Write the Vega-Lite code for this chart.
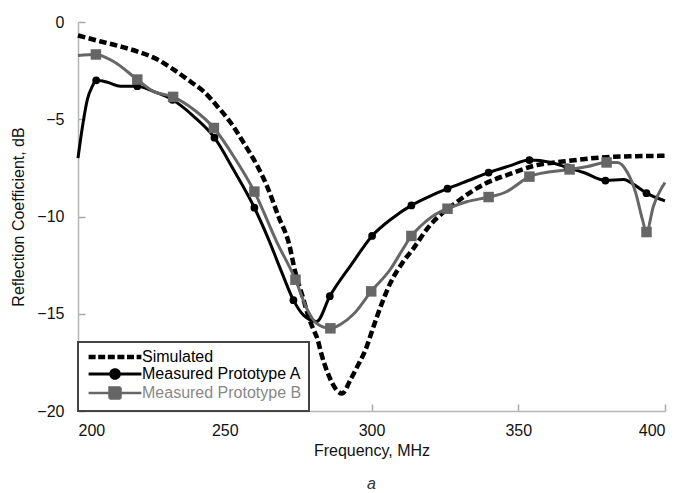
{
  "$schema": "https://vega.github.io/schema/vega-lite/v6.json",
  "width": 587,
  "height": 389,
  "autosize": {"type": "none"},
  "padding": {"left": 78, "top": 22, "right": 14, "bottom": 82},
  "background": "white",
  "config": {
    "view": {"stroke": null},
    "font": "Liberation Sans",
    "axis": {
      "grid": false,
      "domainColor": "#b5b5b5",
      "domainWidth": 1.5,
      "tickColor": "#a8a8a8",
      "tickWidth": 1.5,
      "tickSize": -7,
      "labelFont": "Liberation Sans",
      "titleFont": "Liberation Sans",
      "labelFontSize": 16,
      "titleFontSize": 16,
      "titleFontWeight": "normal",
      "labelColor": "#111",
      "titleColor": "#111"
    }
  },
  "title": {
    "text": "a",
    "orient": "bottom",
    "anchor": "middle",
    "font": "Liberation Sans",
    "fontSize": 16,
    "fontStyle": "italic",
    "fontWeight": "normal",
    "color": "#333",
    "offset": 18
  },
  "datasets": {
    "lines": [
      {"series": "Simulated", "freq": 200, "db": -0.69},
      {"series": "Simulated", "freq": 207.7, "db": -1.0},
      {"series": "Simulated", "freq": 214.5, "db": -1.26},
      {"series": "Simulated", "freq": 220.3, "db": -1.52},
      {"series": "Simulated", "freq": 227.1, "db": -1.93},
      {"series": "Simulated", "freq": 232.5, "db": -2.44},
      {"series": "Simulated", "freq": 238.3, "db": -3.06},
      {"series": "Simulated", "freq": 242.8, "db": -3.57},
      {"series": "Simulated", "freq": 247.5, "db": -4.34},
      {"series": "Simulated", "freq": 252, "db": -5.17},
      {"series": "Simulated", "freq": 256.4, "db": -6.2},
      {"series": "Simulated", "freq": 261.2, "db": -7.43},
      {"series": "Simulated", "freq": 264.6, "db": -8.51},
      {"series": "Simulated", "freq": 268.3, "db": -10.0},
      {"series": "Simulated", "freq": 271.8, "db": -11.35},
      {"series": "Simulated", "freq": 274.1, "db": -12.9},
      {"series": "Simulated", "freq": 276.5, "db": -14.1},
      {"series": "Simulated", "freq": 278.5, "db": -15.14},
      {"series": "Simulated", "freq": 280.2, "db": -15.8},
      {"series": "Simulated", "freq": 281.6, "db": -16.3},
      {"series": "Simulated", "freq": 282.8, "db": -17.0},
      {"series": "Simulated", "freq": 285.5, "db": -18.2},
      {"series": "Simulated", "freq": 288, "db": -18.9},
      {"series": "Simulated", "freq": 290, "db": -19.1},
      {"series": "Simulated", "freq": 292.8, "db": -18.4},
      {"series": "Simulated", "freq": 295.2, "db": -17.7},
      {"series": "Simulated", "freq": 298, "db": -16.84},
      {"series": "Simulated", "freq": 300.7, "db": -15.65},
      {"series": "Simulated", "freq": 303.7, "db": -14.4},
      {"series": "Simulated", "freq": 306.5, "db": -13.4},
      {"series": "Simulated", "freq": 310.6, "db": -12.37},
      {"series": "Simulated", "freq": 314, "db": -11.7},
      {"series": "Simulated", "freq": 319.4, "db": -10.55},
      {"series": "Simulated", "freq": 329.3, "db": -9.23},
      {"series": "Simulated", "freq": 338.2, "db": -8.35},
      {"series": "Simulated", "freq": 348.4, "db": -7.75},
      {"series": "Simulated", "freq": 355.2, "db": -7.4},
      {"series": "Simulated", "freq": 366.7, "db": -7.15},
      {"series": "Simulated", "freq": 378, "db": -6.97},
      {"series": "Simulated", "freq": 390, "db": -6.9},
      {"series": "Simulated", "freq": 400, "db": -6.88},

      {"series": "Measured Prototype A", "freq": 200, "db": -7.0},
      {"series": "Measured Prototype A", "freq": 201.5, "db": -5.4},
      {"series": "Measured Prototype A", "freq": 203.2, "db": -3.98},
      {"series": "Measured Prototype A", "freq": 204.9, "db": -3.3},
      {"series": "Measured Prototype A", "freq": 206.2, "db": -3.0},
      {"series": "Measured Prototype A", "freq": 210, "db": -3.1},
      {"series": "Measured Prototype A", "freq": 214.5, "db": -3.3},
      {"series": "Measured Prototype A", "freq": 220.2, "db": -3.3},
      {"series": "Measured Prototype A", "freq": 225.7, "db": -3.57},
      {"series": "Measured Prototype A", "freq": 232.2, "db": -4.0},
      {"series": "Measured Prototype A", "freq": 239.4, "db": -4.85},
      {"series": "Measured Prototype A", "freq": 246.5, "db": -5.95},
      {"series": "Measured Prototype A", "freq": 253, "db": -7.6},
      {"series": "Measured Prototype A", "freq": 260.1, "db": -9.55},
      {"series": "Measured Prototype A", "freq": 265, "db": -11.2},
      {"series": "Measured Prototype A", "freq": 269.5, "db": -12.9},
      {"series": "Measured Prototype A", "freq": 273.4, "db": -14.3},
      {"series": "Measured Prototype A", "freq": 277, "db": -15.1},
      {"series": "Measured Prototype A", "freq": 281.3, "db": -15.4},
      {"series": "Measured Prototype A", "freq": 285.8, "db": -14.1},
      {"series": "Measured Prototype A", "freq": 293, "db": -12.5},
      {"series": "Measured Prototype A", "freq": 300.2, "db": -11.0},
      {"series": "Measured Prototype A", "freq": 307, "db": -10.1},
      {"series": "Measured Prototype A", "freq": 313.6, "db": -9.43},
      {"series": "Measured Prototype A", "freq": 320, "db": -8.95},
      {"series": "Measured Prototype A", "freq": 325.9, "db": -8.57},
      {"series": "Measured Prototype A", "freq": 333, "db": -8.15},
      {"series": "Measured Prototype A", "freq": 339.9, "db": -7.74},
      {"series": "Measured Prototype A", "freq": 347, "db": -7.4},
      {"series": "Measured Prototype A", "freq": 353.8, "db": -7.1},
      {"series": "Measured Prototype A", "freq": 361.1, "db": -7.22},
      {"series": "Measured Prototype A", "freq": 366.8, "db": -7.48},
      {"series": "Measured Prototype A", "freq": 372.3, "db": -7.74},
      {"series": "Measured Prototype A", "freq": 379.7, "db": -8.15},
      {"series": "Measured Prototype A", "freq": 385.9, "db": -8.1},
      {"series": "Measured Prototype A", "freq": 389.3, "db": -8.35},
      {"series": "Measured Prototype A", "freq": 393.7, "db": -8.8},
      {"series": "Measured Prototype A", "freq": 400, "db": -9.2},

      {"series": "Measured Prototype B", "freq": 200, "db": -1.72},
      {"series": "Measured Prototype B", "freq": 206.1, "db": -1.67},
      {"series": "Measured Prototype B", "freq": 212.1, "db": -2.03},
      {"series": "Measured Prototype B", "freq": 220.2, "db": -2.96},
      {"series": "Measured Prototype B", "freq": 225.7, "db": -3.57},
      {"series": "Measured Prototype B", "freq": 232.4, "db": -3.85},
      {"series": "Measured Prototype B", "freq": 239.4, "db": -4.5},
      {"series": "Measured Prototype B", "freq": 246.3, "db": -5.45},
      {"series": "Measured Prototype B", "freq": 253, "db": -6.9},
      {"series": "Measured Prototype B", "freq": 260.1, "db": -8.72},
      {"series": "Measured Prototype B", "freq": 267.7, "db": -11.3},
      {"series": "Measured Prototype B", "freq": 274.1, "db": -13.25},
      {"series": "Measured Prototype B", "freq": 278, "db": -14.75},
      {"series": "Measured Prototype B", "freq": 281.3, "db": -15.5},
      {"series": "Measured Prototype B", "freq": 286, "db": -15.75},
      {"series": "Measured Prototype B", "freq": 289.4, "db": -15.55},
      {"series": "Measured Prototype B", "freq": 294, "db": -15.0},
      {"series": "Measured Prototype B", "freq": 299.9, "db": -13.85},
      {"series": "Measured Prototype B", "freq": 306.5, "db": -12.7},
      {"series": "Measured Prototype B", "freq": 310.6, "db": -11.7},
      {"series": "Measured Prototype B", "freq": 313.6, "db": -11.0},
      {"series": "Measured Prototype B", "freq": 316.7, "db": -10.5},
      {"series": "Measured Prototype B", "freq": 323.5, "db": -9.75},
      {"series": "Measured Prototype B", "freq": 325.9, "db": -9.6},
      {"series": "Measured Prototype B", "freq": 332.7, "db": -9.23},
      {"series": "Measured Prototype B", "freq": 339.9, "db": -9.0},
      {"series": "Measured Prototype B", "freq": 346.3, "db": -8.7},
      {"series": "Measured Prototype B", "freq": 348.4, "db": -8.5},
      {"series": "Measured Prototype B", "freq": 353.8, "db": -7.95},
      {"series": "Measured Prototype B", "freq": 361, "db": -7.7},
      {"series": "Measured Prototype B", "freq": 367.5, "db": -7.58},
      {"series": "Measured Prototype B", "freq": 373.6, "db": -7.43},
      {"series": "Measured Prototype B", "freq": 380.1, "db": -7.22},
      {"series": "Measured Prototype B", "freq": 383.8, "db": -7.22},
      {"series": "Measured Prototype B", "freq": 387.2, "db": -7.74},
      {"series": "Measured Prototype B", "freq": 390, "db": -8.77},
      {"series": "Measured Prototype B", "freq": 392.3, "db": -10.15},
      {"series": "Measured Prototype B", "freq": 393.7, "db": -10.8},
      {"series": "Measured Prototype B", "freq": 396, "db": -9.5},
      {"series": "Measured Prototype B", "freq": 400, "db": -8.25}
    ],
    "markers": [
      {"series": "Measured Prototype A", "freq": 206.2, "db": -3.0},
      {"series": "Measured Prototype A", "freq": 220.2, "db": -3.3},
      {"series": "Measured Prototype A", "freq": 232.2, "db": -4.0},
      {"series": "Measured Prototype A", "freq": 246.5, "db": -5.95},
      {"series": "Measured Prototype A", "freq": 260.1, "db": -9.55},
      {"series": "Measured Prototype A", "freq": 273.4, "db": -14.3},
      {"series": "Measured Prototype A", "freq": 285.8, "db": -14.1},
      {"series": "Measured Prototype A", "freq": 300.2, "db": -11.0},
      {"series": "Measured Prototype A", "freq": 313.6, "db": -9.43},
      {"series": "Measured Prototype A", "freq": 325.9, "db": -8.57},
      {"series": "Measured Prototype A", "freq": 339.9, "db": -7.74},
      {"series": "Measured Prototype A", "freq": 353.8, "db": -7.1},
      {"series": "Measured Prototype A", "freq": 366.8, "db": -7.48},
      {"series": "Measured Prototype A", "freq": 379.7, "db": -8.15},
      {"series": "Measured Prototype A", "freq": 393.7, "db": -8.8},
      {"series": "Measured Prototype B", "freq": 206.1, "db": -1.67},
      {"series": "Measured Prototype B", "freq": 220.2, "db": -2.96},
      {"series": "Measured Prototype B", "freq": 232.4, "db": -3.85},
      {"series": "Measured Prototype B", "freq": 246.3, "db": -5.45},
      {"series": "Measured Prototype B", "freq": 260.1, "db": -8.72},
      {"series": "Measured Prototype B", "freq": 274.1, "db": -13.25},
      {"series": "Measured Prototype B", "freq": 286, "db": -15.75},
      {"series": "Measured Prototype B", "freq": 299.9, "db": -13.85},
      {"series": "Measured Prototype B", "freq": 313.6, "db": -11.0},
      {"series": "Measured Prototype B", "freq": 325.9, "db": -9.6},
      {"series": "Measured Prototype B", "freq": 339.9, "db": -9.0},
      {"series": "Measured Prototype B", "freq": 353.8, "db": -7.95},
      {"series": "Measured Prototype B", "freq": 367.5, "db": -7.58},
      {"series": "Measured Prototype B", "freq": 380.1, "db": -7.22},
      {"series": "Measured Prototype B", "freq": 393.7, "db": -10.8}
    ]
  },
  "encoding": {
    "x": {
      "field": "freq",
      "type": "quantitative",
      "scale": {"domain": [200, 400], "nice": false, "zero": false},
      "axis": {
        "title": "Frequency, MHz",
        "values": [200, 250, 300, 350, 400],
        "labelPadding": 18,
        "titlePadding": 4
      }
    },
    "y": {
      "field": "db",
      "type": "quantitative",
      "scale": {"domain": [-20, 0], "nice": false, "zero": false},
      "axis": {
        "title": "Reflection Coefficient, dB",
        "values": [-20, -15, -10, -5, 0],
        "labelPadding": 21,
        "titlePadding": 10
      }
    },
    "color": {
      "field": "series",
      "type": "nominal",
      "scale": {
        "domain": ["Simulated", "Measured Prototype A", "Measured Prototype B"],
        "range": ["#000000", "#000000", "#666666"]
      },
      "legend": {
        "title": null,
        "orient": "bottom-left",
        "offset": 0,
        "padding": 7,
        "strokeColor": "#444444",
        "fillColor": "#ffffff",
        "labelFont": "Liberation Sans",
        "labelFontSize": 16,
        "labelColor": "#000000",
        "labelLimit": 400,
        "symbolSize": 400,
        "symbolOffset": 22,
        "labelOffset": 19,
        "rowPadding": -3,
        "encode": {
          "legend": {"update": {"strokeWidth": {"value": 2}}},
          "symbols": {
            "update": {
              "shape": {"signal": "datum.value === 'Simulated' ? 'M-2.64,0H2.64' : datum.value === 'Measured Prototype A' ? 'M-2.64,0H2.64M-0.43,0A0.43,0.43 0 1,0 0.43,0A0.43,0.43 0 1,0 -0.43,0Z' : 'M-2.64,0H2.64M-0.55,-0.55H0.55V0.55H-0.55Z'"},
              "fill": {"signal": "datum.value === 'Simulated' ? 'transparent' : datum.value === 'Measured Prototype A' ? '#000000' : '#666666'"},
              "stroke": {"signal": "datum.value === 'Measured Prototype B' ? '#666666' : '#000000'"},
              "strokeWidth": {"signal": "datum.value === 'Simulated' ? 4.5 : datum.value === 'Measured Prototype A' ? 3 : 2.5"},
              "strokeDash": {"signal": "datum.value === 'Simulated' ? [7, 2.6] : [1, 0]"},
              "opacity": {"value": 1},
              "fillOpacity": {"value": 1},
              "strokeOpacity": {"value": 1}
            }
          },
          "labels": {
            "update": {
              "fill": {"signal": "datum.value === 'Measured Prototype B' ? '#888888' : '#000000'"}
            }
          }
        }
      }
    }
  },
  "layer": [
    {
      "data": {"name": "lines"},
      "transform": [{"filter": "datum.series === 'Simulated'"}],
      "mark": {"type": "line", "interpolate": "monotone", "strokeWidth": 4.5, "strokeDash": [7.5, 3.5]}
    },
    {
      "data": {"name": "lines"},
      "transform": [{"filter": "datum.series !== 'Simulated'"}],
      "mark": {"type": "line", "interpolate": "monotone", "strokeWidth": 3}
    },
    {
      "data": {"name": "markers"},
      "mark": {"type": "point", "filled": true, "opacity": 1},
      "encoding": {
        "shape": {
          "field": "series",
          "type": "nominal",
          "scale": {"domain": ["Measured Prototype A", "Measured Prototype B"], "range": ["circle", "square"]},
          "legend": null
        },
        "size": {
          "field": "series",
          "type": "nominal",
          "scale": {"domain": ["Measured Prototype A", "Measured Prototype B"], "range": [60, 110]},
          "legend": null
        }
      }
    }
  ]
}
